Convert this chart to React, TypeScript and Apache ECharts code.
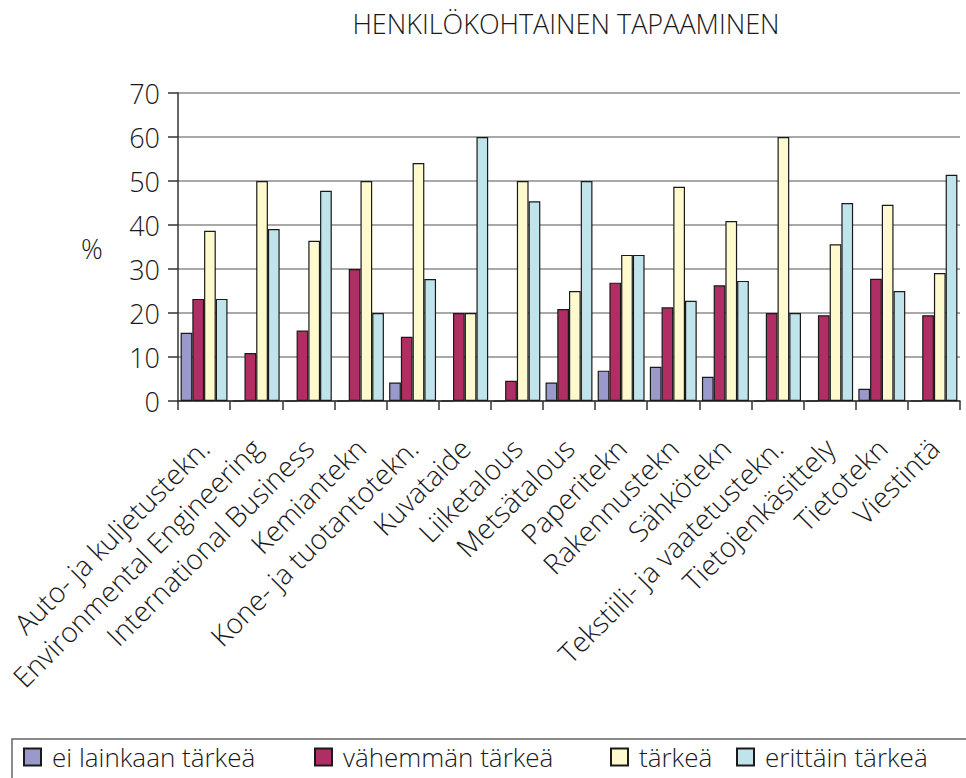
import React, { useEffect, useRef } from 'react';
import * as echarts from 'echarts';

const titleText = 'HENKILÖKOHTAINEN TAPAAMINEN';
const categories = [
  'Auto- ja kuljetustekn.',
  'Environmental Engineering',
  'International Business',
  'Kemiantekn',
  'Kone- ja tuotantotekn.',
  'Kuvataide',
  'Liiketalous',
  'Metsätalous',
  'Paperitekn',
  'Rakennustekn',
  'Sähkötekn',
  'Tekstiili- ja vaatetustekn.',
  'Tietojenkäsittely',
  'Tietotekn',
  'Viestintä',
];
const seriesNames = ['ei lainkaan tärkeä', 'vähemmän tärkeä', 'tärkeä', 'erittäin tärkeä'];
const eiLainkaan = [15.5, 0, 0, 0, 4.2, 0, 0, 4.2, 6.9, 7.8, 5.5, 0, 0, 2.8, 0];
const vahemman = [23.2, 10.9, 16.0, 30.0, 14.6, 20, 4.6, 20.9, 26.9, 21.3, 26.3, 20, 19.5, 27.8, 19.5];
const tarkea = [38.7, 50, 36.4, 50, 54.1, 20, 50, 25, 33.2, 48.7, 40.9, 60, 35.6, 44.6, 29.1];
const erittain = [23.2, 39.1, 47.8, 20, 27.7, 60, 45.4, 50, 33.2, 22.8, 27.3, 20, 45, 25, 51.4];
const seriesData = [eiLainkaan, vahemman, tarkea, erittain];
const colors = ['#9999CC', '#B02E63', '#FEFACD', '#C0E4EC'];
const legendLefts = [23, 314, 610, 736];

const FONT = '"Open Sans", "DejaVu Sans", sans-serif';
const TEXT = '#1a1a1a';

export default function App() {
  const ref = useRef<HTMLDivElement>(null);
  useEffect(() => {
    if (!ref.current) return;
    const chart = echarts.init(ref.current, undefined, { renderer: 'svg' });
    chart.setOption({
      animation: false,
      backgroundColor: '#ffffff',
      textStyle: { fontFamily: FONT, color: TEXT },
      title: {
        text: titleText,
        left: 561,
        top: 5,
        textAlign: 'center',
        textStyle: { fontFamily: FONT, fontSize: 27, fontWeight: 300, color: TEXT },
      },
      legend: seriesNames.map((n, i) => ({
        data: [n],
        left: legendLefts[i],
        top: 744,
        padding: 0,
        itemWidth: 17,
        itemHeight: 17,
        icon: 'rect',
        textStyle: { fontFamily: FONT, fontSize: 26, fontWeight: 300, color: TEXT, padding: [0, 0, 0, 6] },
        selectedMode: false,
      })),
      grid: { left: 178, right: 6, top: 93, bottom: 377, containLabel: false },
      xAxis: {
        type: 'category',
        data: categories,
        boundaryGap: true,
        axisLine: { show: true, lineStyle: { color: '#333', width: 1.5 } },
        axisTick: { show: true, length: 9, lineStyle: { color: '#333', width: 1.5 } },
        axisLabel: {
          interval: 0,
          rotate: 45,
          margin: 42,
          fontFamily: FONT,
          fontSize: 28,
          fontWeight: 300,
          color: TEXT,
        },
      },
      yAxis: {
        type: 'value',
        min: 0,
        max: 70,
        interval: 10,
        axisLine: { show: true, lineStyle: { color: '#333', width: 1.5 } },
        axisTick: { show: true, length: 10, lineStyle: { color: '#333', width: 1.5 } },
        axisLabel: { fontFamily: FONT, fontSize: 27, fontWeight: 300, color: TEXT, margin: 18 },
        splitLine: { show: true, lineStyle: { color: '#8c8c8c', width: 1.5 } },
      },
      graphic: [
        {
          type: 'text',
          left: 81,
          top: 235,
          style: { text: '%', fontFamily: FONT, fontSize: 27, fontWeight: 300, fill: TEXT },
        },
        {
          type: 'rect',
          shape: { x: 12, y: 739, width: 1000, height: 100 },
          style: { fill: 'none', stroke: '#666', lineWidth: 1.5 },
          z: -1,
        },
      ],
      series: seriesNames.map((n, i) => ({
        name: n,
        type: 'bar',
        data: seriesData[i],
        barGap: '0%',
        barCategoryGap: '10%',
        itemStyle: { color: colors[i], borderColor: '#1a1a1a', borderWidth: 1.2 },
      })),
    });
    return () => chart.dispose();
  }, []);
  return (
    <div
      ref={ref}
      style={{ position: 'fixed', left: 0, top: 0, width: 966, height: 778 }}
    />
  );
}
